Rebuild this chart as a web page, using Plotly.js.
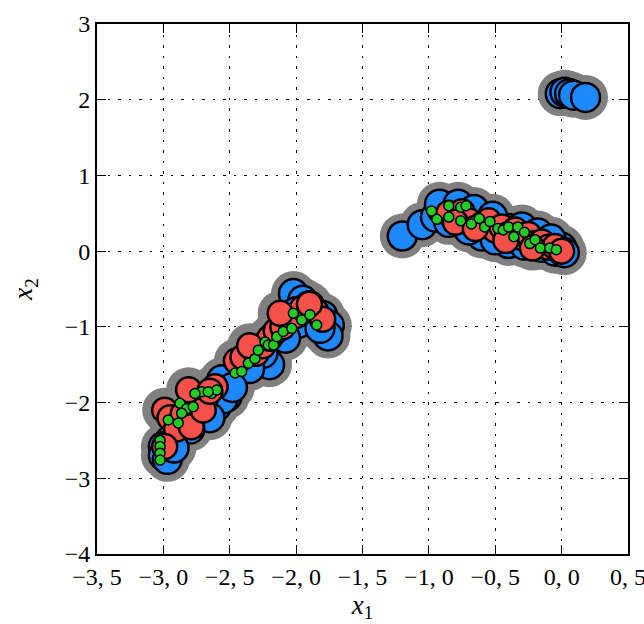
<!DOCTYPE html>
<html>
<head>
<meta charset="utf-8">
<script src="https://cdn.plot.ly/plotly-3.0.1.min.js"></script>
<style>html,body{margin:0;padding:0;background:#fff;}</style>
</head>
<body>
<div id="chart" style="width:644px;height:624px;"></div>
<script>
// Blue points (all samples)
const blueX = [-0.01, 0.025, 0.06, 0.09, 0.18,
  -1.2, -1.05, -0.95, -0.9, -0.8, -0.85, -0.75, -0.7, -0.65, -0.6, -0.55, -0.5, -0.45, -0.4, -0.35, -0.3, -0.25, -0.2, -0.15, -0.1, -0.05, 0.0, 0.02, -0.4, -0.6,
  -0.92, -0.78, -0.66, -0.52, -0.3, -0.18, -0.08, -0.7, -0.5, -0.28,
  -2.02, -1.95, -1.9, -1.8, -1.75, -1.76, -1.85, -2.0, -2.05, -2.1, -2.15, -2.2, -2.2, -2.3, -2.4, -2.45, -2.56, -2.52, -2.6, -2.55, -2.7, -2.75, -2.85, -2.9, -2.95, -3.0, -3.0, -2.97,
  -1.98, -2.08, -2.25, -2.35, -2.48, -2.65, -2.8, -2.92, -1.82];
const blueY = [2.08, 2.10, 2.08, 2.06, 2.03,
  0.2, 0.35, 0.45, 0.55, 0.58, 0.38, 0.45, 0.5, 0.35, 0.42, 0.25, 0.35, 0.2, 0.3, 0.15, 0.25, 0.1, 0.18, 0.05, 0.12, 0.0, 0.05, -0.02, 0.1, 0.2,
  0.62, 0.62, 0.55, 0.46, 0.32, 0.24, 0.16, 0.28, 0.15, 0.08,
  -0.56, -0.65, -0.72, -0.85, -0.98, -1.12, -0.95, -0.8, -0.9, -1.0, -1.1, -1.2, -1.5, -1.35, -1.5, -1.6, -1.7, -1.92, -2.05, -1.95, -1.95, -2.1, -2.2, -2.35, -2.5, -2.58, -2.7, -2.75,
  -0.95, -1.15, -1.35, -1.55, -1.8, -2.2, -2.35, -2.6, -1.02];
// Red points
const redX = [-0.85, -0.75, -0.7, -0.6, -0.55, -0.5, -0.45, -0.4, -0.35, -0.3, -0.25, -0.2, -0.15, -0.1, -0.05, 0.0,
  -0.8, -0.65, -0.42, -0.22,
  -2.99, -2.95, -2.9, -2.85, -2.81, -2.79, -2.7, -2.61, -2.65, -2.45, -2.4, -2.3, -2.25, -2.2, -2.15, -2.1, -2.05, -2.0, -1.95, -1.85, -1.8, -2.99,
  -2.35, -2.12, -1.9];
const redY = [0.5, 0.52, 0.4, 0.35, 0.4, 0.28, 0.32, 0.22, 0.28, 0.18, 0.22, 0.1, 0.12, 0.05, 0.06, 0.0,
  0.38, 0.3, 0.14, 0.04,
  -2.10, -2.2, -2.35, -2.15, -1.83, -2.32, -2.1, -1.79, -1.85, -1.45, -1.4, -1.35, -1.25, -1.15, -1.05, -1.0, -0.9, -0.85, -0.75, -0.8, -0.9, -2.58,
  -1.25, -0.82, -0.7];
// Green points
const greenX = [-0.98, -0.94, -0.85, -0.85, -0.76, -0.76, -0.72, -0.68, -0.62, -0.58, -0.54, -0.48, -0.44, -0.40, -0.36, -0.33, -0.28, -0.24, -0.20, -0.16, -0.09, -0.04,
  -3.025, -3.025, -3.025, -3.025, -2.963, -2.888, -2.875, -2.824, -2.775, -2.862, -2.711, -2.636, -2.598, -2.762, -2.662,
  -2.46, -2.41, -2.36, -2.31, -2.285, -2.234, -2.21, -2.17, -2.146, -2.097, -2.033, -2.021, -1.958, -1.896, -1.845];
const greenY = [0.53, 0.42, 0.60, 0.45, 0.58, 0.40, 0.60, 0.36, 0.43, 0.32, 0.39, 0.30, 0.28, 0.32, 0.19, 0.32, 0.25, 0.10, 0.15, 0.04, 0.04, 0.02,
  -2.50, -2.58, -2.67, -2.76, -2.23, -2.27, -2.01, -2.08, -2.055, -2.14, -1.857, -1.88, -1.835, -1.88, -1.857,
  -1.61, -1.59, -1.48, -1.42, -1.31, -1.20, -1.24, -1.24, -1.13, -1.06, -1.02, -0.82, -0.91, -0.84, -0.976];
const xTicks = [-3.5, -3.0, -2.5, -2.0, -1.5, -1.0, -0.5, 0.0, 0.5];
const xTickText = ["\u22123, 5", "\u22123, 0", "\u22122, 5", "\u22122, 0", "\u22121, 5", "\u22121, 0", "\u22120, 5", "0, 0", "0, 5"];
const yTicks = [-4, -3, -2, -1, 0, 1, 2, 3];
const yTickText = ["\u22124", "\u22123", "\u22122", "\u22121", "0", "1", "2", "3"];

const grayX = blueX.concat(redX);
const grayY = blueY.concat(redY);

const traces = [
  {x: grayX, y: grayY, type: 'scatter', mode: 'markers', hoverinfo: 'skip',
   marker: {size: 45, color: '#808080', line: {width: 0}}},
  {x: blueX, y: blueY, type: 'scatter', mode: 'markers',
   marker: {size: 29, color: '#1e88ff', line: {width: 2.5, color: '#000'}}},
  {x: redX, y: redY, type: 'scatter', mode: 'markers',
   marker: {size: 25, color: '#f5504a', line: {width: 2.5, color: '#000'}}},
  {x: greenX, y: greenY, type: 'scatter', mode: 'markers',
   marker: {size: 10, color: '#22cc22', line: {width: 1.5, color: '#000'}}}
];

const font = {family: 'Liberation Serif, DejaVu Serif, serif', size: 24, color: '#000'};
const axisCommon = {
  showline: true, linewidth: 2, linecolor: '#000', mirror: 'ticks',
  ticks: 'inside', ticklen: 9, tickwidth: 1, tickcolor: '#000',
  showgrid: true, gridcolor: '#000', gridwidth: 1, griddash: '2.5px,8px',
  zeroline: false, tickfont: font, tickmode: 'array', ticklabeloverflow: 'allow'
};
const layout = {
  width: 644, height: 624,
  margin: {l: 97, r: 16, t: 24, b: 70},
  paper_bgcolor: '#fff', plot_bgcolor: '#fff',
  showlegend: false,
  font: font,
  xaxis: Object.assign({}, axisCommon, {
    range: [-3.5, 0.5], tickvals: xTicks, ticktext: xTickText,
    title: {text: '<i>x</i><sub>1</sub>', font: {family: font.family, size: 27, color: '#000'}, standoff: 4}
  }),
  yaxis: Object.assign({}, axisCommon, {
    range: [-4, 3], tickvals: yTicks, ticktext: yTickText,
    title: {text: '<i>x</i><sub>2</sub>', font: {family: font.family, size: 27, color: '#000'}, standoff: 24}
  })
};
Plotly.newPlot('chart', traces, layout, {displayModeBar: false, staticPlot: true});
</script>
</body>
</html>
